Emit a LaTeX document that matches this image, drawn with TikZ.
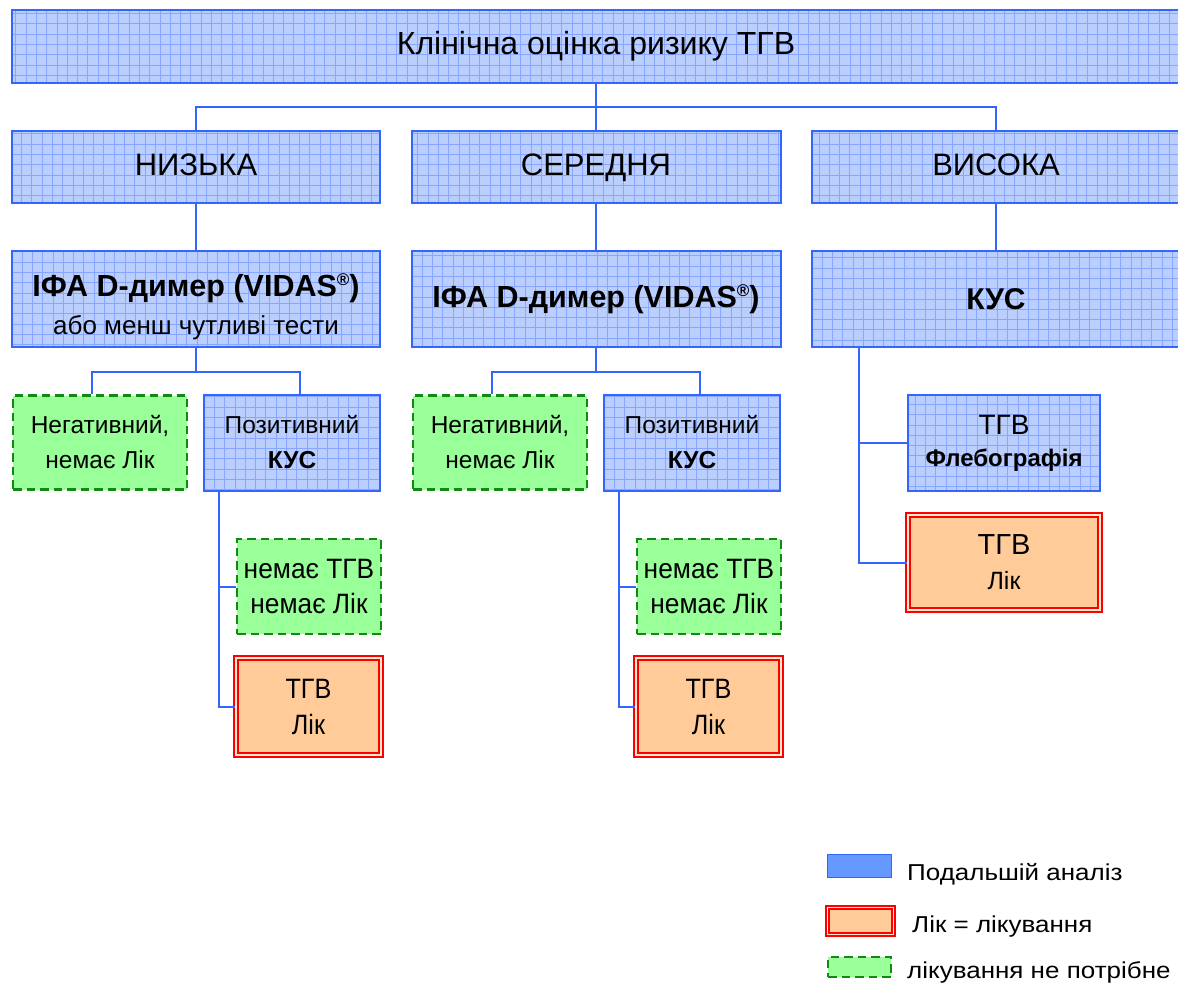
\documentclass[tikz,border=0pt]{standalone}
\usepackage{fontspec}
\usepackage{graphicx}
\setmainfont{Liberation Sans}
\definecolor{bord}{HTML}{3366FF}
\definecolor{bfill}{HTML}{BBCFFF}
\definecolor{bgrid}{HTML}{88A6FF}
\definecolor{gfill}{HTML}{99FF99}
\definecolor{gdraw}{HTML}{128A12}
\definecolor{pfill}{HTML}{FFCC99}
\definecolor{pgap}{HTML}{FFE8D0}
\definecolor{rdraw}{HTML}{FF0000}
\definecolor{lblue}{HTML}{6699FF}
\newcommand{\fsz}[2]{\fontsize{#1}{#2}\selectfont}
\newcommand{\hsc}[2]{\scalebox{#1}[1]{#2}}
\newcommand{\regmark}{{\fontsize{17}{17}\selectfont\raisebox{11pt}{®}}}
\tikzset{
  gbox/.style={draw=bord, line width=2pt, fill=bfill, inner sep=0pt, align=center,
    path picture={\draw[bgrid, line width=0.9pt] (path picture bounding box.south west) grid[step=10.3pt] (path picture bounding box.north east);}},
  nbox/.style={draw=gdraw, line width=2.5pt, dash pattern=on 8.5pt off 5pt, fill=gfill, inner sep=0pt, align=center},
  tbox/.style={draw=rdraw, line width=2pt, double=pgap, double distance=2pt, fill=pfill, inner sep=0pt, align=center},
  conn/.style={draw=bord, line width=2pt},
  lbox/.style={draw=bord, line width=1.5pt, fill=lblue, inner sep=0pt},
  ltext/.style={anchor=base west, inner sep=0pt, font=\fsz{23}{27}},
  lvl/.style={gbox, minimum height=72pt, font=\fsz{31}{36}, text height=22pt, text depth=5pt},
}
\begin{document}
\begin{tikzpicture}[x=1pt, y=-1pt]
\useasboundingbox (0,0) rectangle (1178,985);
\clip (0,0) rectangle (1178,985);
% top
\node[gbox, minimum width=1168pt, minimum height=73pt, font=\fsz{32}{38}] (top) at (596,46.5) {Клінічна оцінка ризику ТГВ};
% levels
\node[lvl, minimum width=368pt] (low) at (196,166.5) {НИЗЬКА};
\node[lvl, minimum width=369pt] (mid) at (596,166.5) {СЕРЕДНЯ};
\node[lvl, minimum width=368pt] (high) at (996,166.5) {ВИСОКА};
% tests
\node[gbox, minimum width=368pt, minimum height=96pt, font=\fsz{26}{38}] (ifa1) at (196,299)
  {\rule{0pt}{38pt}{\bfseries\fontsize{30.5}{38}\selectfont ІФА D-димер (VIDAS\regmark)}\\або менш чутливі тести};
\node[gbox, minimum width=369pt, minimum height=96pt, font=\fsz{30.5}{38}\bfseries] (ifa2) at (596,299)
  {ІФА D-димер (VIDAS\regmark)};
\node[gbox, minimum width=368pt, minimum height=96pt, font=\fsz{30}{36}\bfseries] (kus) at (996,299) {КУС};
% results level 1
\node[nbox, minimum width=174pt, minimum height=94pt, font=\fsz{24.5}{35}] (neg1) at (100,442.5) {Негативний,\\немає Лік};
\node[gbox, minimum width=176pt, minimum height=96pt, font=\fsz{24.5}{35}] (pos1) at (292,442.5) {Позитивний\\\textbf{КУС}};
\node[nbox, minimum width=174pt, minimum height=94pt, font=\fsz{24.5}{35}] (neg2) at (500,442.5) {Негативний,\\немає Лік};
\node[gbox, minimum width=176pt, minimum height=96pt, font=\fsz{24.5}{35}] (pos2) at (692,442.5) {Позитивний\\\textbf{КУС}};
\node[gbox, minimum width=192pt, minimum height=96pt, font=\fsz{28}{32}] (fl) at (1004,443)
  {ТГВ\\{\bfseries\fontsize{24}{32}\selectfont Флебографія}};
% results level 2
\node[nbox, minimum width=144pt, minimum height=95pt, font=\fsz{28}{35}] (nt1) at (309,586.5) {\hsc{0.94}{немає ТГВ}\\\hsc{0.94}{немає Лік}};
\node[tbox, minimum width=145pt, minimum height=97pt, font=\fsz{28}{36}] (tr1) at (308.5,706.5) {\hsc{0.9}{ТГВ}\\\hsc{0.9}{Лік}};
\node[nbox, minimum width=144pt, minimum height=95pt, font=\fsz{28}{35}] (nt2) at (709,586.5) {\hsc{0.94}{немає ТГВ}\\\hsc{0.94}{немає Лік}};
\node[tbox, minimum width=145pt, minimum height=97pt, font=\fsz{28}{36}] (tr2) at (708.5,706.5) {\hsc{0.9}{ТГВ}\\\hsc{0.9}{Лік}};
\node[tbox, minimum width=192pt, minimum height=95pt, font=\fsz{29}{35}] (tr3) at (1004,562.5)
  {ТГВ\\{\fontsize{25}{35}\selectfont Лік}};
% connectors
\draw[conn] (top.south) -- ++(0,23) -| (low.north);
\draw[conn] (top.south) -- ++(0,23) -| (high.north);
\draw[conn] (top.south) -- (mid.north);
\draw[conn] (low.south) -- (ifa1.north);
\draw[conn] (mid.south) -- (ifa2.north);
\draw[conn] (high.south) -- (kus.north);
\draw[conn] (ifa1.south) -- ++(0,24) -| ([xshift=-8pt]neg1.north);
\draw[conn] (ifa1.south) -- ++(0,24) -| ([xshift=8pt]pos1.north);
\draw[conn] (ifa2.south) -- ++(0,24) -| ([xshift=-8pt]neg2.north);
\draw[conn] (ifa2.south) -- ++(0,24) -| ([xshift=8pt]pos2.north);
\draw[conn] ([xshift=16pt]pos1.south west) |- (nt1.west);
\draw[conn] ([xshift=16pt]pos1.south west) |- (tr1.west);
\draw[conn] ([xshift=16pt]pos2.south west) |- (nt2.west);
\draw[conn] ([xshift=16pt]pos2.south west) |- (tr2.west);
\draw[conn] ([xshift=48pt]kus.south west) |- (fl.west);
\draw[conn] ([xshift=48pt]kus.south west) |- (tr3.west);
% legend
\node[lbox, minimum width=64pt, minimum height=23pt] (lg1) at (859.5,866) {};
\node[ltext] (lt1) at (907,880) {\hsc{1.13}{Подальшій аналіз}};
\node[tbox, line width=1.5pt, double distance=1.8pt, minimum width=66pt, minimum height=27pt] (lg2) at (860.5,921) {};
\node[ltext] (lt2) at (912,932) {\hsc{1.13}{Лік = лікування}};
\node[nbox, minimum width=63pt, minimum height=20pt] (lg3) at (859.5,967) {};
\node[ltext] (lt3) at (907,978) {\hsc{1.13}{лікування не потрібне}};
\end{tikzpicture}
\end{document}
